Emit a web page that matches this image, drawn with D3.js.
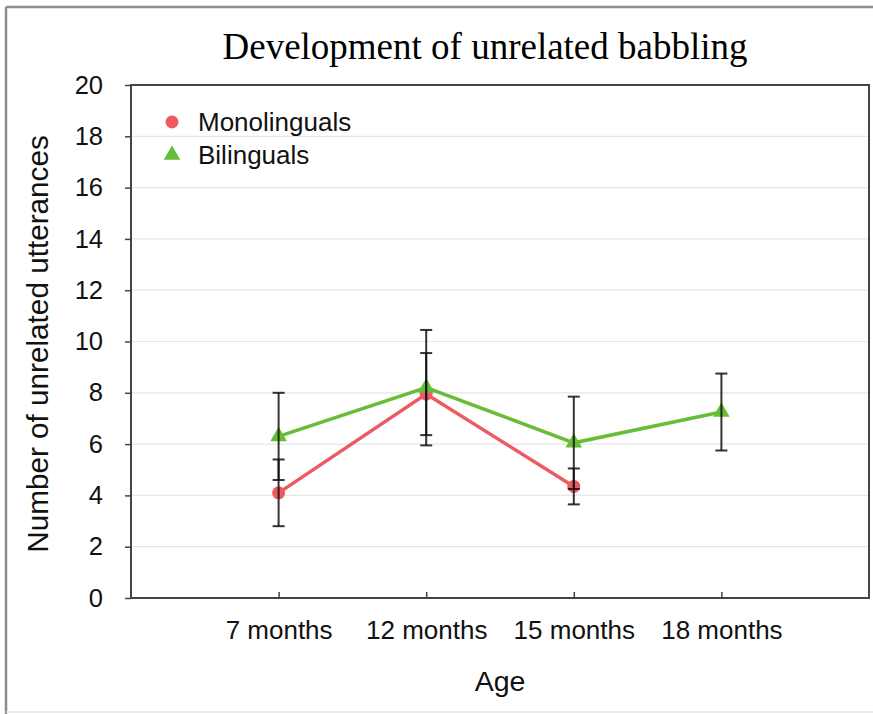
<!DOCTYPE html>
<html>
<head>
<meta charset="utf-8">
<script src="https://cdn.jsdelivr.net/npm/d3@7"></script>
<style>
  html, body { margin: 0; padding: 0; background: #fff; }
  svg { display: block; }
</style>
</head>
<body>
<script>
// Age groups and group means with error ranges
const categories = ["7 months", "12 months", "15 months", "18 months"];
const monoValues = [4.1, 7.95, 4.35, null];
const monoErrors = [1.3, 1.6, 0.7, null];
const biliValues = [6.3, 8.2, 6.05, 7.25];
const biliErrors = [1.7, 2.25, 1.8, 1.5];
const yTicks = [0, 2, 4, 6, 8, 10, 12, 14, 16, 18, 20];
const seriesNames = ["Monolinguals", "Bilinguals"];

const W = 873, H = 714;
const plot = { left: 131, right: 869, top: 85, bottom: 598 };
const red = "#ec5b60", green = "#68bd36";
const sans = "'Liberation Sans', Arial, sans-serif";

const svg = d3.select("body").append("svg").attr("width", W).attr("height", H);

// outer frame
svg.append("line").attr("x1", 6).attr("x2", 6).attr("y1", 7).attr("y2", H)
  .attr("stroke", "#8c8c8c").attr("stroke-width", 2.5);
svg.append("line").attr("x1", 6).attr("x2", W).attr("y1", 7).attr("y2", 7)
  .attr("stroke", "#8c8c8c").attr("stroke-width", 2.5);
svg.append("line").attr("x1", 6).attr("x2", W).attr("y1", 712).attr("y2", 712)
  .attr("stroke", "#e4e4e4").attr("stroke-width", 1.5);

const x = d3.scaleLinear().domain([0, categories.length + 1]).range([plot.left, plot.right]);
const y = d3.scaleLinear().domain([0, 20]).range([plot.bottom, plot.top]);
const xi = i => x(i + 1);

// title
svg.append("text").attr("x", 485).attr("y", 59).attr("text-anchor", "middle")
  .style("font-family", "'Liberation Serif', 'Times New Roman', serif")
  .style("font-size", "37px").attr("fill", "#000")
  .text("Development of unrelated babbling");

// horizontal gridlines
svg.append("g").selectAll("line").data(yTicks.filter(t => t > 0 && t < 20)).join("line")
  .attr("x1", plot.left).attr("x2", plot.right)
  .attr("y1", d => y(d)).attr("y2", d => y(d))
  .attr("stroke", "#e6e6e6").attr("stroke-width", 1.2);

// y axis
const yAxis = svg.append("g").attr("transform", `translate(${plot.left},0)`)
  .call(d3.axisLeft(y).tickValues(yTicks).tickSize(6).tickPadding(22));
yAxis.select(".domain").remove();
yAxis.selectAll(".tick line").attr("stroke", "#444").attr("stroke-width", 1.5);
yAxis.selectAll(".tick text")
  .style("font-family", sans).style("font-size", "25.5px").attr("fill", "#111");

// x axis with inward ticks
const xAxis = svg.append("g").attr("transform", `translate(0,${plot.bottom})`)
  .call(d3.axisBottom(x).tickValues(categories.map((c, i) => i + 1))
    .tickFormat(d => categories[d - 1]).tickSize(0).tickPadding(23));
xAxis.select(".domain").remove();
xAxis.selectAll(".tick").append("line").attr("y1", 0).attr("y2", -6)
  .attr("stroke", "#444").attr("stroke-width", 1.5);
xAxis.selectAll(".tick text")
  .style("font-family", sans).style("font-size", "26px").attr("fill", "#111");

// plot frame
svg.append("rect").attr("x", plot.left).attr("y", plot.top)
  .attr("width", plot.right - plot.left).attr("height", plot.bottom - plot.top)
  .attr("fill", "none").attr("stroke", "#444").attr("stroke-width", 2);

// axis titles
svg.append("text").attr("transform", `translate(48,344) rotate(-90)`)
  .attr("text-anchor", "middle")
  .style("font-family", sans).style("font-size", "29.7px")
  .attr("fill", "#111").text("Number of unrelated utterances");
svg.append("text").attr("x", 500).attr("y", 691).attr("text-anchor", "middle")
  .style("font-family", sans).style("font-size", "28.5px")
  .attr("fill", "#111").text("Age");

// series lines
const line = d3.line().defined(d => d.v != null).x(d => xi(d.i)).y(d => y(d.v));
const monoPts = monoValues.map((v, i) => ({ i, v, e: monoErrors[i] }));
const biliPts = biliValues.map((v, i) => ({ i, v, e: biliErrors[i] }));

svg.append("path").datum(monoPts).attr("d", line)
  .attr("fill", "none").attr("stroke", red).attr("stroke-width", 3.5).attr("stroke-linejoin", "miter");
svg.append("path").datum(biliPts).attr("d", line)
  .attr("fill", "none").attr("stroke", green).attr("stroke-width", 3.5).attr("stroke-linejoin", "miter");

const tri = d3.symbol().type(d3.symbolTriangle).size(120);

// markers
svg.append("g").selectAll("circle").data(monoPts.filter(d => d.v != null)).join("circle")
  .attr("cx", d => xi(d.i)).attr("cy", d => y(d.v)).attr("r", 6.5).attr("fill", red);
svg.append("g").selectAll("path").data(biliPts.filter(d => d.v != null)).join("path")
  .attr("d", tri).attr("transform", d => `translate(${xi(d.i)},${y(d.v)})`).attr("fill", green);

// error bars
const allErr = monoPts.concat(biliPts).filter(d => d.v != null);
const eb = svg.append("g").attr("stroke", "#111").attr("stroke-width", 2).attr("stroke-opacity", 0.85);
eb.selectAll("line.v").data(allErr).join("line").attr("class", "v")
  .attr("x1", d => xi(d.i)).attr("x2", d => xi(d.i))
  .attr("y1", d => y(d.v - d.e)).attr("y2", d => y(d.v + d.e));
eb.selectAll("line.lo").data(allErr).join("line").attr("class", "lo")
  .attr("x1", d => xi(d.i) - 6).attr("x2", d => xi(d.i) + 6)
  .attr("y1", d => y(d.v - d.e)).attr("y2", d => y(d.v - d.e));
eb.selectAll("line.hi").data(allErr).join("line").attr("class", "hi")
  .attr("x1", d => xi(d.i) - 6).attr("x2", d => xi(d.i) + 6)
  .attr("y1", d => y(d.v + d.e)).attr("y2", d => y(d.v + d.e));

// legend
const legend = svg.append("g").attr("transform", "translate(172,122)");
legend.append("circle").attr("cx", 0).attr("cy", 0).attr("r", 6.5).attr("fill", red);
legend.append("path").attr("d", tri).attr("transform", "translate(0,33)").attr("fill", green);
legend.selectAll("text").data(seriesNames).join("text")
  .attr("x", 26).attr("y", (d, i) => i * 33 + 9)
  .style("font-family", sans).style("font-size", "26px")
  .attr("fill", "#111").text(d => d);
</script>
</body>
</html>
